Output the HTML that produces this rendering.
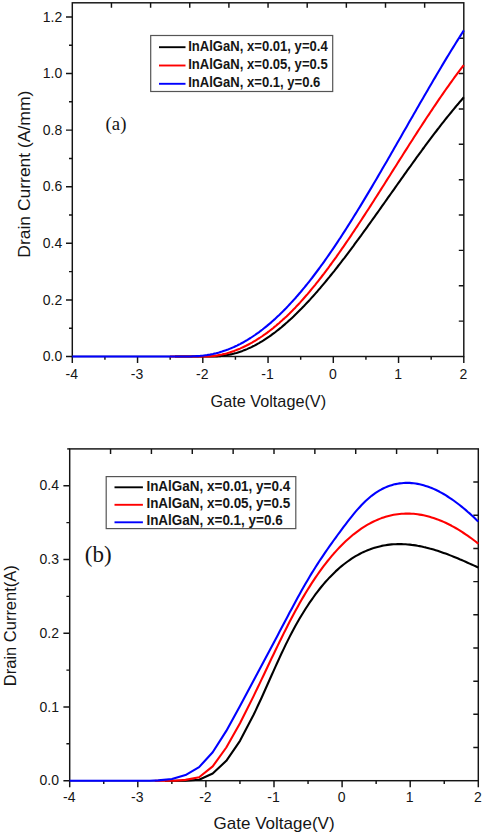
<!DOCTYPE html><html><head><meta charset="utf-8"><style>html,body{margin:0;padding:0;background:#fff;overflow:hidden}svg{display:block}text{font-family:"Liberation Sans",sans-serif;fill:#151515}</style></head><body>
<svg width="484" height="835" viewBox="0 0 484 835">
<rect width="484" height="835" fill="#fff"/>
<g><path d="M66.0,356.50H72.30M66.0,299.91H72.30M66.0,243.32H72.30M66.0,186.72H72.30M66.0,130.13H72.30M66.0,73.54H72.30M66.0,16.95H72.30M69.0,328.20H72.30M69.0,271.61H72.30M69.0,215.02H72.30M69.0,158.43H72.30M69.0,101.84H72.30M69.0,45.24H72.30M72.30,356.50V363.0M137.55,356.50V363.0M202.80,356.50V363.0M268.05,356.50V363.0M333.30,356.50V363.0M398.55,356.50V363.0M463.80,356.50V363.0M104.92,356.50V359.8M170.18,356.50V359.8M235.43,356.50V359.8M300.68,356.50V359.8M365.93,356.50V359.8M431.18,356.50V359.8M111.45,2.80V7.8M458.8,321.13H463.80M150.60,2.80V7.8M458.8,285.76H463.80M189.75,2.80V7.8M458.8,250.39H463.80M228.90,2.80V7.8M458.8,215.02H463.80M268.05,2.80V7.8M458.8,179.65H463.80M307.20,2.80V7.8M458.8,144.28H463.80M346.35,2.80V7.8M458.8,108.91H463.80M385.50,2.80V7.8M458.8,73.54H463.80M424.65,2.80V7.8M458.8,38.17H463.80" fill="none" stroke="#141414" stroke-width="1.45"/><rect x="72.3" y="2.8" width="391.50" height="353.70" fill="none" stroke="#141414" stroke-width="1.45"/><text x="62.20" y="361.10" font-size="14" text-anchor="end">0.0</text><text x="62.20" y="304.51" font-size="14" text-anchor="end">0.2</text><text x="62.20" y="247.92" font-size="14" text-anchor="end">0.4</text><text x="62.20" y="191.32" font-size="14" text-anchor="end">0.6</text><text x="62.20" y="134.73" font-size="14" text-anchor="end">0.8</text><text x="62.20" y="78.14" font-size="14" text-anchor="end">1.0</text><text x="62.20" y="21.55" font-size="14" text-anchor="end">1.2</text><text x="71.80" y="378.60" font-size="14" text-anchor="middle">-4</text><text x="137.05" y="378.60" font-size="14" text-anchor="middle">-3</text><text x="202.30" y="378.60" font-size="14" text-anchor="middle">-2</text><text x="267.55" y="378.60" font-size="14" text-anchor="middle">-1</text><text x="332.80" y="378.60" font-size="14" text-anchor="middle">0</text><text x="398.05" y="378.60" font-size="14" text-anchor="middle">1</text><text x="463.30" y="378.60" font-size="14" text-anchor="middle">2</text></g>
<path d="M175.0,356.5 L205.0,356.5 L205.0,356.5 L206.5,356.5 L208.0,356.5 L209.5,356.5 L211.0,356.5 L212.5,356.5 L214.0,356.5 L215.5,356.5 L217.0,356.5 L218.5,356.3 L220.0,356.2 L221.5,356.0 L223.0,355.8 L224.5,355.6 L226.0,355.3 L227.5,355.0 L229.0,354.7 L230.5,354.4 L232.0,354.1 L233.5,353.7 L235.0,353.3 L236.5,352.9 L238.0,352.4 L239.5,351.9 L241.0,351.4 L242.5,350.9 L244.0,350.3 L245.5,349.7 L247.0,349.1 L248.5,348.4 L250.0,347.8 L251.5,347.1 L253.0,346.3 L254.5,345.6 L256.0,344.8 L257.5,343.9 L259.0,343.1 L260.5,342.2 L262.0,341.3 L263.5,340.4 L265.0,339.4 L266.5,338.4 L268.0,337.4 L269.5,336.4 L271.0,335.3 L272.5,334.2 L274.0,333.1 L275.5,332.0 L277.0,330.8 L278.5,329.6 L280.0,328.4 L281.5,327.2 L283.0,325.9 L284.5,324.6 L286.0,323.3 L287.5,322.0 L289.0,320.6 L290.5,319.3 L292.0,317.9 L293.5,316.5 L295.0,315.0 L296.5,313.6 L298.0,312.1 L299.5,310.6 L301.0,309.1 L302.5,307.5 L304.0,306.0 L305.5,304.4 L307.0,302.8 L308.5,301.2 L310.0,299.6 L311.5,297.9 L313.0,296.3 L314.5,294.6 L316.0,292.9 L317.5,291.2 L319.0,289.4 L320.5,287.7 L322.0,285.9 L323.5,284.1 L325.0,282.3 L326.5,280.5 L328.0,278.7 L329.5,276.9 L331.0,275.0 L332.5,273.1 L334.0,271.3 L335.5,269.4 L337.0,267.5 L338.5,265.5 L340.0,263.6 L341.5,261.7 L343.0,259.7 L344.5,257.8 L346.0,255.8 L347.5,253.8 L349.0,251.8 L350.5,249.8 L352.0,247.8 L353.5,245.8 L355.0,243.7 L356.5,241.7 L358.0,239.7 L359.5,237.6 L361.0,235.6 L362.5,233.5 L364.0,231.4 L365.5,229.4 L367.0,227.3 L368.5,225.2 L370.0,223.1 L371.5,221.0 L373.0,218.9 L374.5,216.8 L376.0,214.7 L377.5,212.6 L379.0,210.5 L380.5,208.4 L382.0,206.2 L383.5,204.1 L385.0,202.0 L386.5,199.9 L388.0,197.7 L389.5,195.6 L391.0,193.5 L392.5,191.4 L394.0,189.3 L395.5,187.1 L397.0,185.0 L398.5,182.9 L400.0,180.8 L401.5,178.7 L403.0,176.6 L404.5,174.4 L406.0,172.3 L407.5,170.2 L409.0,168.1 L410.5,166.1 L412.0,164.0 L413.5,161.9 L415.0,159.8 L416.5,157.7 L418.0,155.7 L419.5,153.6 L421.0,151.6 L422.5,149.5 L424.0,147.5 L425.5,145.4 L427.0,143.4 L428.5,141.4 L430.0,139.4 L431.5,137.4 L433.0,135.4 L434.5,133.4 L436.0,131.5 L437.5,129.5 L439.0,127.6 L440.5,125.6 L442.0,123.7 L443.5,121.8 L445.0,119.9 L446.5,118.0 L448.0,116.2 L449.5,114.3 L451.0,112.5 L452.5,110.6 L454.0,108.8 L455.5,107.0 L457.0,105.2 L458.5,103.5 L460.0,101.7 L461.5,100.0 L463.0,98.2 L463.8,97.3" fill="none" stroke="#000" stroke-width="2.1" stroke-linejoin="round"/>
<path d="M170.0,356.5 L198.0,356.5 L198.0,356.5 L199.5,356.5 L201.0,356.5 L202.5,356.5 L204.0,356.5 L205.5,356.5 L207.0,356.5 L208.5,356.5 L210.0,356.4 L211.5,356.2 L213.0,356.1 L214.5,355.9 L216.0,355.6 L217.5,355.4 L219.0,355.1 L220.5,354.8 L222.0,354.5 L223.5,354.1 L225.0,353.8 L226.5,353.4 L228.0,352.9 L229.5,352.5 L231.0,352.0 L232.5,351.5 L234.0,351.0 L235.5,350.4 L237.0,349.8 L238.5,349.2 L240.0,348.6 L241.5,347.9 L243.0,347.2 L244.5,346.5 L246.0,345.8 L247.5,345.0 L249.0,344.2 L250.5,343.4 L252.0,342.6 L253.5,341.7 L255.0,340.8 L256.5,339.9 L258.0,338.9 L259.5,338.0 L261.0,337.0 L262.5,336.0 L264.0,334.9 L265.5,333.9 L267.0,332.8 L268.5,331.7 L270.0,330.5 L271.5,329.4 L273.0,328.2 L274.5,326.9 L276.0,325.7 L277.5,324.4 L279.0,323.2 L280.5,321.8 L282.0,320.5 L283.5,319.1 L285.0,317.8 L286.5,316.4 L288.0,314.9 L289.5,313.5 L291.0,312.0 L292.5,310.5 L294.0,308.9 L295.5,307.4 L297.0,305.8 L298.5,304.2 L300.0,302.6 L301.5,300.9 L303.0,299.2 L304.5,297.5 L306.0,295.8 L307.5,294.1 L309.0,292.3 L310.5,290.5 L312.0,288.7 L313.5,286.9 L315.0,285.1 L316.5,283.2 L318.0,281.3 L319.5,279.4 L321.0,277.5 L322.5,275.5 L324.0,273.6 L325.5,271.6 L327.0,269.6 L328.5,267.6 L330.0,265.5 L331.5,263.5 L333.0,261.4 L334.5,259.3 L336.0,257.3 L337.5,255.1 L339.0,253.0 L340.5,250.9 L342.0,248.7 L343.5,246.6 L345.0,244.4 L346.5,242.2 L348.0,240.0 L349.5,237.8 L351.0,235.6 L352.5,233.3 L354.0,231.1 L355.5,228.8 L357.0,226.6 L358.5,224.3 L360.0,222.0 L361.5,219.7 L363.0,217.4 L364.5,215.1 L366.0,212.8 L367.5,210.5 L369.0,208.2 L370.5,205.9 L372.0,203.5 L373.5,201.2 L375.0,198.8 L376.5,196.5 L378.0,194.1 L379.5,191.8 L381.0,189.4 L382.5,187.0 L384.0,184.7 L385.5,182.3 L387.0,179.9 L388.5,177.5 L390.0,175.2 L391.5,172.8 L393.0,170.4 L394.5,168.0 L396.0,165.7 L397.5,163.3 L399.0,160.9 L400.5,158.5 L402.0,156.2 L403.5,153.8 L405.0,151.4 L406.5,149.1 L408.0,146.7 L409.5,144.3 L411.0,142.0 L412.5,139.7 L414.0,137.3 L415.5,135.0 L417.0,132.6 L418.5,130.3 L420.0,128.0 L421.5,125.7 L423.0,123.4 L424.5,121.1 L426.0,118.8 L427.5,116.5 L429.0,114.3 L430.5,112.0 L432.0,109.8 L433.5,107.5 L435.0,105.3 L436.5,103.1 L438.0,100.9 L439.5,98.7 L441.0,96.5 L442.5,94.3 L444.0,92.2 L445.5,90.0 L447.0,87.9 L448.5,85.8 L450.0,83.7 L451.5,81.6 L453.0,79.5 L454.5,77.4 L456.0,75.4 L457.5,73.4 L459.0,71.4 L460.5,69.4 L462.0,67.4 L463.5,65.5 L463.8,65.1" fill="none" stroke="#f00" stroke-width="2.1" stroke-linejoin="round"/>
<path d="M72.3,356.5 L192.0,356.5 L192.0,356.2 L193.5,356.2 L195.0,356.2 L196.5,356.1 L198.0,356.1 L199.5,356.0 L201.0,355.8 L202.5,355.7 L204.0,355.5 L205.5,355.3 L207.0,355.1 L208.5,354.8 L210.0,354.6 L211.5,354.3 L213.0,354.0 L214.5,353.6 L216.0,353.3 L217.5,352.9 L219.0,352.5 L220.5,352.0 L222.0,351.6 L223.5,351.1 L225.0,350.6 L226.5,350.0 L228.0,349.5 L229.5,348.9 L231.0,348.3 L232.5,347.6 L234.0,347.0 L235.5,346.3 L237.0,345.6 L238.5,344.8 L240.0,344.1 L241.5,343.3 L243.0,342.5 L244.5,341.6 L246.0,340.7 L247.5,339.9 L249.0,338.9 L250.5,338.0 L252.0,337.0 L253.5,336.0 L255.0,335.0 L256.5,333.9 L258.0,332.9 L259.5,331.8 L261.0,330.6 L262.5,329.5 L264.0,328.3 L265.5,327.1 L267.0,325.9 L268.5,324.6 L270.0,323.4 L271.5,322.1 L273.0,320.7 L274.5,319.4 L276.0,318.0 L277.5,316.6 L279.0,315.2 L280.5,313.7 L282.0,312.3 L283.5,310.8 L285.0,309.2 L286.5,307.7 L288.0,306.1 L289.5,304.5 L291.0,302.9 L292.5,301.3 L294.0,299.6 L295.5,298.0 L297.0,296.2 L298.5,294.5 L300.0,292.8 L301.5,291.0 L303.0,289.2 L304.5,287.4 L306.0,285.5 L307.5,283.7 L309.0,281.8 L310.5,279.9 L312.0,278.0 L313.5,276.0 L315.0,274.0 L316.5,272.0 L318.0,270.0 L319.5,268.0 L321.0,265.9 L322.5,263.9 L324.0,261.8 L325.5,259.7 L327.0,257.5 L328.5,255.4 L330.0,253.2 L331.5,251.0 L333.0,248.8 L334.5,246.6 L336.0,244.4 L337.5,242.1 L339.0,239.8 L340.5,237.6 L342.0,235.2 L343.5,232.9 L345.0,230.6 L346.5,228.3 L348.0,225.9 L349.5,223.5 L351.0,221.1 L352.5,218.7 L354.0,216.3 L355.5,213.9 L357.0,211.5 L358.5,209.0 L360.0,206.6 L361.5,204.1 L363.0,201.6 L364.5,199.1 L366.0,196.6 L367.5,194.1 L369.0,191.6 L370.5,189.1 L372.0,186.6 L373.5,184.0 L375.0,181.5 L376.5,178.9 L378.0,176.4 L379.5,173.8 L381.0,171.2 L382.5,168.6 L384.0,166.0 L385.5,163.5 L387.0,160.9 L388.5,158.3 L390.0,155.7 L391.5,153.1 L393.0,150.4 L394.5,147.8 L396.0,145.2 L397.5,142.6 L399.0,140.0 L400.5,137.4 L402.0,134.7 L403.5,132.1 L405.0,129.5 L406.5,126.9 L408.0,124.3 L409.5,121.6 L411.0,119.0 L412.5,116.4 L414.0,113.8 L415.5,111.2 L417.0,108.6 L418.5,106.0 L420.0,103.3 L421.5,100.7 L423.0,98.2 L424.5,95.6 L426.0,93.0 L427.5,90.4 L429.0,87.8 L430.5,85.2 L432.0,82.7 L433.5,80.1 L435.0,77.6 L436.5,75.0 L438.0,72.5 L439.5,70.0 L441.0,67.4 L442.5,64.9 L444.0,62.4 L445.5,59.9 L447.0,57.4 L448.5,55.0 L450.0,52.5 L451.5,50.0 L453.0,47.6 L454.5,45.2 L456.0,42.8 L457.5,40.4 L459.0,38.0 L460.5,35.6 L462.0,33.2 L463.5,30.9 L463.8,30.4" fill="none" stroke="#00f" stroke-width="2.1" stroke-linejoin="round"/>
<rect x="150.7" y="35.5" width="182" height="56" fill="#fff" stroke="#555" stroke-width="1.2"/>
<line x1="159" y1="47.2" x2="185.5" y2="47.2" stroke="#000" stroke-width="1.9"/>
<text x="188.20" y="50.60" font-size="14.8" font-weight="bold" textLength="139.5" lengthAdjust="spacingAndGlyphs" fill="#000">InAlGaN, x=0.01, y=0.4</text>
<line x1="159" y1="65.5" x2="185.5" y2="65.5" stroke="#f00" stroke-width="1.9"/>
<text x="188.20" y="69.00" font-size="14.8" font-weight="bold" textLength="139.5" lengthAdjust="spacingAndGlyphs" fill="#000">InAlGaN, x=0.05, y=0.5</text>
<line x1="159" y1="83.8" x2="185.5" y2="83.8" stroke="#00f" stroke-width="1.9"/>
<text x="188.20" y="87.40" font-size="14.8" font-weight="bold" textLength="132.2" lengthAdjust="spacingAndGlyphs" fill="#000">InAlGaN, x=0.1, y=0.6</text>
<text x="105.60" y="130.00" font-size="18.8" style="font-family:'Liberation Serif',serif">(a)</text>
<text x="210.60" y="407.40" font-size="16.2" textLength="115.5" lengthAdjust="spacingAndGlyphs">Gate Voltage(V)</text>
<text x="0.00" y="0.00" font-size="17.2" text-anchor="middle" textLength="167" lengthAdjust="spacingAndGlyphs" transform="translate(29.8,174.2) rotate(-90)">Drain Current (A/mm)</text>
<g><path d="M63.4,780.70H69.70M63.4,706.97H69.70M63.4,633.23H69.70M63.4,559.50H69.70M63.4,485.77H69.70M66.4,743.83H69.70M66.4,670.10H69.70M66.4,596.37H69.70M66.4,522.63H69.70M69.70,780.70V787.2M137.80,780.70V787.2M205.90,780.70V787.2M274.00,780.70V787.2M342.10,780.70V787.2M410.20,780.70V787.2M478.30,780.70V787.2M103.75,780.70V784.0M171.85,780.70V784.0M239.95,780.70V784.0M308.05,780.70V784.0M376.15,780.70V784.0M444.25,780.70V784.0M110.56,448.90V453.9M473.3,747.52H478.30M151.42,448.90V453.9M473.3,714.34H478.30M192.28,448.90V453.9M473.3,681.16H478.30M233.14,448.90V453.9M473.3,647.98H478.30M274.00,448.90V453.9M473.3,614.80H478.30M314.86,448.90V453.9M473.3,581.62H478.30M355.72,448.90V453.9M473.3,548.44H478.30M396.58,448.90V453.9M473.3,515.26H478.30M437.44,448.90V453.9M473.3,482.08H478.30" fill="none" stroke="#141414" stroke-width="1.45"/><rect x="69.7" y="448.9" width="408.60" height="331.80" fill="none" stroke="#141414" stroke-width="1.45"/><text x="59.00" y="785.30" font-size="14" text-anchor="end">0.0</text><text x="59.00" y="711.57" font-size="14" text-anchor="end">0.1</text><text x="59.00" y="637.83" font-size="14" text-anchor="end">0.2</text><text x="59.00" y="564.10" font-size="14" text-anchor="end">0.3</text><text x="59.00" y="490.37" font-size="14" text-anchor="end">0.4</text><text x="69.20" y="802.30" font-size="14" text-anchor="middle">-4</text><text x="137.30" y="802.30" font-size="14" text-anchor="middle">-3</text><text x="205.40" y="802.30" font-size="14" text-anchor="middle">-2</text><text x="273.50" y="802.30" font-size="14" text-anchor="middle">-1</text><text x="341.60" y="802.30" font-size="14" text-anchor="middle">0</text><text x="409.70" y="802.30" font-size="14" text-anchor="middle">1</text><text x="477.80" y="802.30" font-size="14" text-anchor="middle">2</text></g>
<path d="M165.0,780.7 L185.0,780.7 L185.5,780.7 L199.1,779.7 L212.7,773.5 L226.3,760.8 L240.0,740.8 L253.6,714.8 L255.6,710.6 L257.6,706.3 L259.6,702.0 L261.6,697.7 L263.6,693.2 L265.6,688.8 L267.6,684.3 L269.6,679.8 L271.6,675.3 L273.6,670.9 L275.6,666.4 L277.6,662.0 L279.6,657.6 L281.6,653.3 L283.6,649.1 L285.6,644.9 L287.6,640.9 L289.6,636.9 L291.6,633.1 L293.6,629.3 L295.6,625.6 L297.6,622.1 L299.6,618.6 L301.6,615.2 L303.6,612.0 L305.6,608.8 L307.6,605.7 L309.6,602.7 L311.6,599.8 L313.6,597.0 L315.6,594.2 L317.6,591.6 L319.6,589.0 L321.6,586.5 L323.6,584.1 L325.6,581.8 L327.6,579.6 L329.6,577.4 L331.6,575.4 L333.6,573.4 L335.6,571.4 L337.6,569.6 L339.6,567.8 L341.6,566.1 L343.6,564.5 L345.6,563.0 L347.6,561.5 L349.6,560.1 L351.6,558.7 L353.6,557.4 L355.6,556.2 L357.6,555.1 L359.6,554.0 L361.6,552.9 L363.6,552.0 L365.6,551.1 L367.6,550.2 L369.6,549.5 L371.6,548.7 L373.6,548.1 L375.6,547.4 L377.6,546.9 L379.6,546.4 L381.6,545.9 L383.6,545.5 L385.6,545.2 L387.6,544.9 L389.6,544.6 L391.6,544.4 L393.6,544.3 L395.6,544.2 L397.6,544.1 L399.6,544.1 L401.6,544.1 L403.6,544.2 L405.6,544.3 L407.6,544.5 L409.6,544.6 L411.6,544.9 L413.6,545.1 L415.6,545.4 L417.6,545.8 L419.6,546.1 L421.6,546.5 L423.6,547.0 L425.6,547.4 L427.6,547.9 L429.6,548.5 L431.6,549.0 L433.6,549.6 L435.6,550.2 L437.6,550.8 L439.6,551.5 L441.6,552.2 L443.6,552.9 L445.6,553.6 L447.6,554.3 L449.6,555.1 L451.6,555.9 L453.6,556.7 L455.6,557.5 L457.6,558.3 L459.6,559.2 L461.6,560.0 L463.6,560.9 L465.6,561.8 L467.6,562.7 L469.6,563.6 L471.6,564.5 L473.6,565.4 L475.6,566.3 L477.6,567.2 L478.3,567.6" fill="none" stroke="#000" stroke-width="2.1" stroke-linejoin="round"/>
<path d="M154.8,780.7 L174.8,780.7 L185.5,779.9 L199.1,777.2 L212.7,766.4 L226.3,747.5 L240.0,723.3 L253.6,696.1 L255.6,691.9 L257.6,687.7 L259.6,683.6 L261.6,679.4 L263.6,675.2 L265.6,671.0 L267.6,666.7 L269.6,662.5 L271.6,658.3 L273.6,654.2 L275.6,650.0 L277.6,645.9 L279.6,641.8 L281.6,637.7 L283.6,633.6 L285.6,629.7 L287.6,625.7 L289.6,621.8 L291.6,618.0 L293.6,614.2 L295.6,610.5 L297.6,606.9 L299.6,603.3 L301.6,599.8 L303.6,596.4 L305.6,593.0 L307.6,589.8 L309.6,586.6 L311.6,583.4 L313.6,580.4 L315.6,577.4 L317.6,574.5 L319.6,571.7 L321.6,568.9 L323.6,566.2 L325.6,563.6 L327.6,561.0 L329.6,558.6 L331.6,556.2 L333.6,553.8 L335.6,551.6 L337.6,549.4 L339.6,547.3 L341.6,545.2 L343.6,543.2 L345.6,541.3 L347.6,539.5 L349.6,537.7 L351.6,536.0 L353.6,534.3 L355.6,532.8 L357.6,531.3 L359.6,529.8 L361.6,528.4 L363.6,527.1 L365.6,525.9 L367.6,524.7 L369.6,523.6 L371.6,522.5 L373.6,521.5 L375.6,520.6 L377.6,519.7 L379.6,518.9 L381.6,518.1 L383.6,517.4 L385.6,516.8 L387.6,516.2 L389.6,515.7 L391.6,515.2 L393.6,514.8 L395.6,514.5 L397.6,514.2 L399.6,514.0 L401.6,513.8 L403.6,513.7 L405.6,513.6 L407.6,513.6 L409.6,513.6 L411.6,513.7 L413.6,513.8 L415.6,514.0 L417.6,514.3 L419.6,514.6 L421.6,514.9 L423.6,515.3 L425.6,515.7 L427.6,516.2 L429.6,516.8 L431.6,517.4 L433.6,518.0 L435.6,518.7 L437.6,519.4 L439.6,520.2 L441.6,521.0 L443.6,521.9 L445.6,522.8 L447.6,523.8 L449.6,524.8 L451.6,525.8 L453.6,526.9 L455.6,528.0 L457.6,529.2 L459.6,530.4 L461.6,531.7 L463.6,533.0 L465.6,534.3 L467.6,535.7 L469.6,537.1 L471.6,538.5 L473.6,540.0 L475.6,541.5 L477.6,543.1 L478.3,543.7" fill="none" stroke="#f00" stroke-width="2.1" stroke-linejoin="round"/>
<path d="M69.7,780.7 L150.0,780.7 L158.2,780.4 L171.9,779.0 L185.5,775.1 L199.1,767.1 L212.7,752.3 L226.3,730.9 L240.0,706.0 L253.6,680.4 L255.6,676.7 L257.6,673.0 L259.6,669.2 L261.6,665.5 L263.6,661.7 L265.6,658.0 L267.6,654.2 L269.6,650.5 L271.6,646.7 L273.6,642.9 L275.6,639.2 L277.6,635.4 L279.6,631.6 L281.6,627.8 L283.6,624.0 L285.6,620.2 L287.6,616.4 L289.6,612.6 L291.6,608.9 L293.6,605.2 L295.6,601.5 L297.6,597.8 L299.6,594.2 L301.6,590.6 L303.6,587.1 L305.6,583.6 L307.6,580.2 L309.6,576.8 L311.6,573.4 L313.6,570.2 L315.6,567.0 L317.6,563.9 L319.6,560.8 L321.6,557.8 L323.6,554.8 L325.6,551.9 L327.6,549.0 L329.6,546.1 L331.6,543.3 L333.6,540.5 L335.6,537.8 L337.6,535.0 L339.6,532.3 L341.6,529.6 L343.6,526.9 L345.6,524.3 L347.6,521.6 L349.6,519.1 L351.6,516.6 L353.6,514.1 L355.6,511.7 L357.6,509.4 L359.6,507.2 L361.6,505.0 L363.6,503.0 L365.6,501.0 L367.6,499.2 L369.6,497.5 L371.6,495.8 L373.6,494.3 L375.6,492.9 L377.6,491.6 L379.6,490.4 L381.6,489.3 L383.6,488.3 L385.6,487.4 L387.6,486.5 L389.6,485.8 L391.6,485.2 L393.6,484.6 L395.6,484.1 L397.6,483.7 L399.6,483.4 L401.6,483.2 L403.6,483.0 L405.6,482.9 L407.6,482.9 L409.6,482.9 L411.6,483.1 L413.6,483.3 L415.6,483.5 L417.6,483.9 L419.6,484.3 L421.6,484.7 L423.6,485.3 L425.6,485.9 L427.6,486.5 L429.6,487.3 L431.6,488.0 L433.6,488.9 L435.6,489.8 L437.6,490.8 L439.6,491.8 L441.6,492.9 L443.6,494.0 L445.6,495.2 L447.6,496.5 L449.6,497.8 L451.6,499.1 L453.6,500.5 L455.6,502.0 L457.6,503.5 L459.6,505.0 L461.6,506.6 L463.6,508.2 L465.6,509.9 L467.6,511.7 L469.6,513.4 L471.6,515.2 L473.6,517.1 L475.6,519.0 L477.6,520.9 L478.3,521.6" fill="none" stroke="#00f" stroke-width="2.1" stroke-linejoin="round"/>
<path d="M67.2,448.9H69.7" stroke="#141414" stroke-width="1.45"/>
<rect x="106.2" y="476.6" width="189.6" height="52" fill="#fff" stroke="#555" stroke-width="1.2"/>
<line x1="114.5" y1="487.3" x2="142.9" y2="487.3" stroke="#000" stroke-width="1.9"/>
<text x="146.40" y="490.60" font-size="14.0" font-weight="bold" textLength="143.8" lengthAdjust="spacingAndGlyphs" fill="#000">InAlGaN, x=0.01, y=0.4</text>
<line x1="114.5" y1="504.8" x2="142.9" y2="504.8" stroke="#f00" stroke-width="1.9"/>
<text x="146.40" y="508.00" font-size="14.0" font-weight="bold" textLength="143.8" lengthAdjust="spacingAndGlyphs" fill="#000">InAlGaN, x=0.05, y=0.5</text>
<line x1="114.5" y1="522.3" x2="142.9" y2="522.3" stroke="#00f" stroke-width="1.9"/>
<text x="146.40" y="525.40" font-size="14.0" font-weight="bold" textLength="136.3" lengthAdjust="spacingAndGlyphs" fill="#000">InAlGaN, x=0.1, y=0.6</text>
<text x="84.80" y="562.30" font-size="23" style="font-family:'Liberation Serif',serif">(b)</text>
<text x="213.60" y="828.80" font-size="16.6" textLength="121" lengthAdjust="spacingAndGlyphs">Gate Voltage(V)</text>
<text x="0.00" y="0.00" font-size="16.3" text-anchor="middle" textLength="121" lengthAdjust="spacingAndGlyphs" transform="translate(15.9,625.7) rotate(-90)">Drain Current(A)</text>
</svg></body></html>
